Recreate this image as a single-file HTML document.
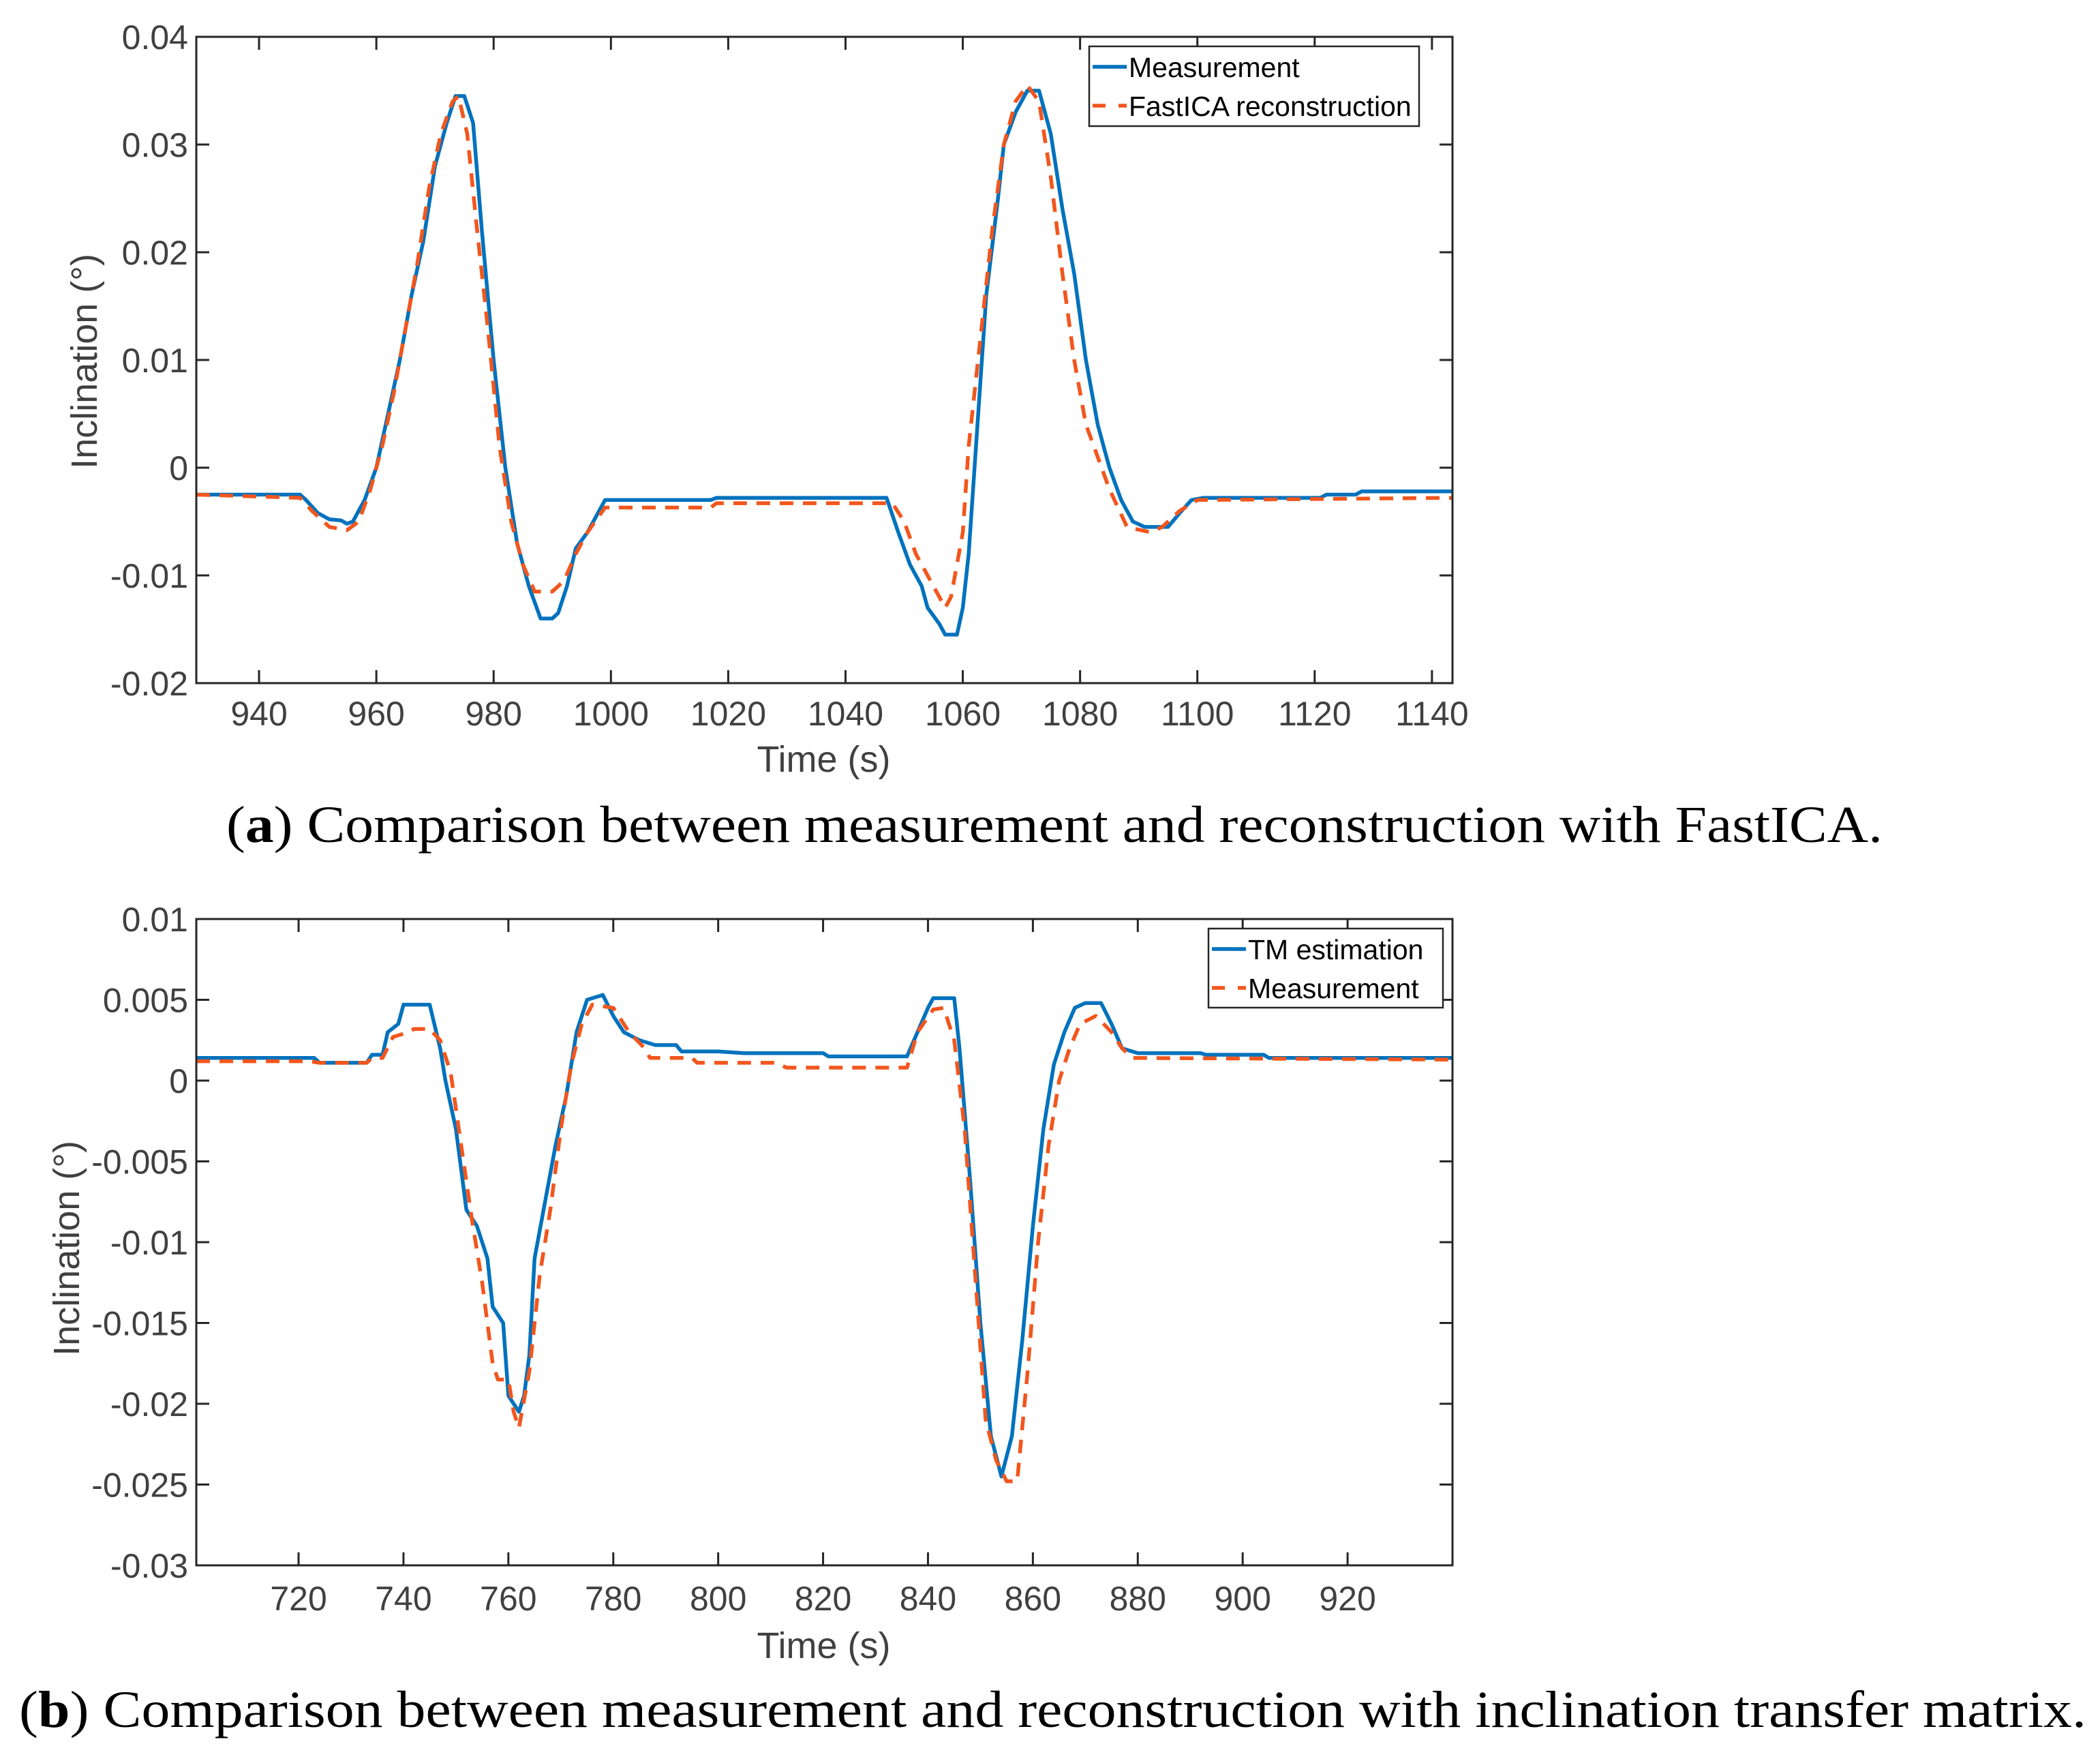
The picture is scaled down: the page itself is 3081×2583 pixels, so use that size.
<!DOCTYPE html>
<html><head><meta charset="utf-8"><style>
html,body{margin:0;padding:0;background:#fff;}
svg{display:block;}
text{font-family:"Liberation Sans",sans-serif;}
.tick{fill:#404040;font-size:50px;}
.axl{fill:#404040;font-size:54px;}
.leg{fill:#000;font-size:41px;}
.cap{font-family:"Liberation Serif",serif;font-size:76px;fill:#000;}
</style></head><body>
<svg id="fig" width="3081" height="2583" viewBox="0 0 3081 2583" xmlns="http://www.w3.org/2000/svg">
<g id="chartA"></g>
<g id="chartB"></g>
<text class="cap" x="332" y="1235" textLength="2430" lengthAdjust="spacingAndGlyphs">(<tspan font-weight="bold">a</tspan>) Comparison between measurement and reconstruction with FastICA.</text>
<text class="cap" x="28" y="2533" textLength="3033" lengthAdjust="spacingAndGlyphs">(<tspan font-weight="bold">b</tspan>) Comparison between measurement and reconstruction with inclination transfer matrix.</text>
</svg>
<script>
// Chart A data
const aMeasT = [929.3,947,948,950,952,954,955,956,958,960,962,964,966,968,970,972,973.5,975,976.5,978,980,982,984,986,988,990,991,992.5,994,996,998,999,1017,1018,1047,1049,1051,1053,1054,1056,1057,1059,1060,1061,1062,1063,1064,1066,1067,1069,1071,1073,1075,1077,1079,1081,1083,1085,1087,1089,1091,1095,1097,1099,1101,1121,1122,1127,1128,1143.5];
const aMeasV = [-0.0025,-0.0025,-0.003,-0.0042,-0.0048,-0.0049,-0.0052,-0.005,-0.003,0.0,0.005,0.010,0.016,0.021,0.028,0.032,0.0345,0.0345,0.032,0.022,0.010,0.000,-0.007,-0.011,-0.014,-0.014,-0.0135,-0.011,-0.0075,-0.006,-0.004,-0.003,-0.003,-0.0028,-0.0028,-0.006,-0.009,-0.011,-0.013,-0.0145,-0.0155,-0.0155,-0.013,-0.008,0.0,0.008,0.016,0.025,0.030,0.033,0.035,0.035,0.031,0.024,0.018,0.010,0.004,0.000,-0.003,-0.005,-0.0055,-0.0055,-0.0042,-0.003,-0.0028,-0.0028,-0.0025,-0.0025,-0.0022,-0.0022];
const aIcaT = [929.3,947,949,952,955,957,959,961,963,965,967,969,971,973,974,975.5,977,979,981,983,985,987,990,992,994,996,999,1017,1018,1048,1050,1052,1055,1057,1058,1060,1061,1063,1065,1067,1069,1071,1073,1075,1077,1079,1081,1083,1085,1088,1092,1094,1097,1100,1143.5];
const aIcaV = [-0.0025,-0.0028,-0.004,-0.0055,-0.0058,-0.005,-0.002,0.002,0.007,0.013,0.019,0.026,0.031,0.034,0.0345,0.031,0.023,0.013,0.002,-0.005,-0.009,-0.0115,-0.0115,-0.0105,-0.008,-0.006,-0.0037,-0.0037,-0.0033,-0.0033,-0.005,-0.008,-0.011,-0.013,-0.012,-0.006,0.002,0.012,0.022,0.030,0.034,0.0355,0.034,0.027,0.018,0.010,0.004,0.001,-0.002,-0.0055,-0.006,-0.0055,-0.004,-0.003,-0.0028];
const aXTicks = [940,960,980,1000,1020,1040,1060,1080,1100,1120,1140];
const aYTicks = [-0.02,-0.01,0,0.01,0.02,0.03,0.04];
const aYLabels = ["-0.02","-0.01","0","0.01","0.02","0.03","0.04"];
const aLegend = ["Measurement","FastICA reconstruction"];

// Chart B data
const bTmT = [700.5,723,724,733,734,736,737,739,740,745,747,748,750,752,754,756,757,759,760,762,763,764,765,767,769,771,773,775,778,780,782,785,788,792,793,800,805,820,821,836,838,840,841,845,846,848,850,852,854,856,858,860,862,864,866,868,870,873,875,877,880,892,893,904,905,940];
const bTmV = [0.0014,0.0014,0.0011,0.0011,0.0016,0.0016,0.003,0.0035,0.0047,0.0047,0.002,0.0,-0.003,-0.008,-0.009,-0.011,-0.014,-0.015,-0.0195,-0.0205,-0.0195,-0.017,-0.011,-0.0075,-0.004,-0.001,0.003,0.005,0.0053,0.004,0.003,0.0025,0.0022,0.0022,0.0018,0.0018,0.0017,0.0017,0.0015,0.0015,0.003,0.0045,0.0051,0.0051,0.002,-0.006,-0.015,-0.022,-0.0245,-0.022,-0.016,-0.009,-0.003,0.001,0.003,0.0045,0.0048,0.0048,0.0035,0.002,0.0017,0.0017,0.0016,0.0016,0.0014,0.0014];
const bMeasT = [700.5,722,724,733,734,736,738,741,742,745,747,749,751,753,755,757,758,760,761,762,764,766,768,770,772,774,776,780,783,786,787,795,796,811,813,836,838,841,843,845,847,849,851,853,855,857,859,861,863,865,867,869,872,875,877,879,940];
const bMeasV = [0.0012,0.0012,0.0011,0.0011,0.0014,0.0014,0.0027,0.003,0.0032,0.0032,0.0025,0.0005,-0.004,-0.0085,-0.0125,-0.0175,-0.0185,-0.0185,-0.0205,-0.0215,-0.018,-0.012,-0.008,-0.003,0.001,0.0035,0.0047,0.0045,0.003,0.002,0.0014,0.0014,0.0011,0.0011,0.0008,0.0008,0.003,0.0044,0.0045,0.0025,-0.003,-0.012,-0.021,-0.0235,-0.0248,-0.0248,-0.018,-0.010,-0.004,0.0,0.002,0.0035,0.004,0.003,0.002,0.0014,0.0013];
const bXTicks = [720,740,760,780,800,820,840,860,880,900,920];
const bYTicks = [-0.03,-0.025,-0.02,-0.015,-0.01,-0.005,0,0.005,0.01];
const bYLabels = ["-0.03","-0.025","-0.02","-0.015","-0.01","-0.005","0","0.005","0.01"];
const bLegend = ["TM estimation","Measurement"];

const NS = "http://www.w3.org/2000/svg";
const BLUE = "#0072BD", RED = "#F2561D";
function mk(tag, attrs, parent){
  const e = document.createElementNS(NS, tag);
  for (const k in attrs) e.setAttribute(k, attrs[k]);
  parent.appendChild(e);
  return e;
}

function drawChart(g, cfg){
  const L=cfg.L,R=cfg.R,T=cfg.T,B=cfg.B;
  const sx = v => L + (v - cfg.x0) / (cfg.x1 - cfg.x0) * (R - L);
  const sy = v => B - (v - cfg.y0) / (cfg.y1 - cfg.y0) * (B - T);
  const bg = mk('rect',{x:L,y:T,width:R-L,height:B-T,fill:'#fff'},g);
  
  
  cfg.xt.forEach(t=>{
    const x = sx(t);
    const tk = mk('path',{d:`M${x},${B}v-19M${x},${T}v19`,stroke:'#262626','stroke-width':3},g);
    
    
    const lb = mk('text',{x:x,y:cfg.xly,'text-anchor':'middle',class:'tick'},g);
    lb.textContent = t;
    
    
  });
  cfg.yt.forEach((t,i)=>{
    const y = sy(t);
    const tk = mk('path',{d:`M${L},${y}h19M${R},${y}h-19`,stroke:'#262626','stroke-width':3},g);
    
    
    const lb = mk('text',{x:276,y:y+18,'text-anchor':'end',class:'tick'},g);
    lb.textContent = cfg.yl[i];
    
    
  });
  const clip = 'clip'+cfg.id;
  const cp = mk('clipPath',{id:clip},g);
  mk('rect',{x:L,y:T,width:R-L,height:B-T},cp);
  cfg.series.forEach(s=>{
    const d = s.t.map((t,i)=>(i?'L':'M')+sx(t).toFixed(1)+','+sy(s.v[i]).toFixed(1)).join('');
    const p = mk('path',{d:d,fill:'none',stroke:s.color,'stroke-width':5.5,'stroke-linejoin':'round','clip-path':`url(#${clip})`},g);
    if (s.dash) p.setAttribute('stroke-dasharray','20,14');
    
    
  });
  const fr = mk('rect',{x:L,y:T,width:R-L,height:B-T,fill:'none',stroke:'#262626','stroke-width':3},g);
  
  
  const xl = mk('text',{x:(L+R)/2 - 1,y:cfg.xtitleY,'text-anchor':'middle',class:'axl'},g);
  xl.textContent = 'Time (s)';
  
  
  const yl = mk('text',{x:0,y:0,'text-anchor':'middle',class:'axl',transform:`translate(${cfg.ytitleX},${cfg.ytitleY}) rotate(-90)`},g);
  yl.textContent = 'Inclination (°)';
  
  
  const lg = mk('g',{},g);
  
  
  const lr = mk('rect',{x:cfg.lx,y:cfg.ly,width:cfg.lw,height:cfg.lh,fill:'#fff',stroke:'#262626','stroke-width':2.5},lg);
  
  
  cfg.series.forEach((s,i)=>{
    const cy = cfg.ly + 30 + i*57;
    const ln = mk('line',{x1:cfg.lx+5,x2:cfg.lx+55,y1:cy,y2:cy,stroke:s.color,'stroke-width':5.5},lg);
    if (s.dash) ln.setAttribute('stroke-dasharray','19,19');
    
    
    const tx = mk('text',{x:cfg.lx+58,y:cy+15,class:'leg'},lg);
    tx.textContent = cfg.legend[i];
    
    
  });
}

drawChart(document.getElementById('chartA'),{
  id:'A',L:288,R:2131,T:54,B:1002,x0:929.3,x1:1143.5,y0:-0.02,y1:0.04,
  xt:aXTicks,yt:aYTicks,yl:aYLabels,xly:1064,xtitleY:1132,ytitleX:142,ytitleY:530,
  lx:1598,ly:68,lw:484,lh:117,legend:aLegend,
  series:[{t:aMeasT,v:aMeasV,color:BLUE,name:'measurement-line'},{t:aIcaT,v:aIcaV,color:RED,dash:true,name:'fastica-line'}]
});
drawChart(document.getElementById('chartB'),{
  id:'B',L:288,R:2131,T:1348,B:2296,x0:700.5,x1:940,y0:-0.03,y1:0.01,
  xt:bXTicks,yt:bYTicks,yl:bYLabels,xly:2362,xtitleY:2432,ytitleX:116,ytitleY:1831,
  lx:1773,ly:1362,lw:344,lh:116,legend:bLegend,
  series:[{t:bTmT,v:bTmV,color:BLUE,name:'tm-estimation-line'},{t:bMeasT,v:bMeasV,color:RED,dash:true,name:'measurement-line'}]
});
</script>
</body></html>
